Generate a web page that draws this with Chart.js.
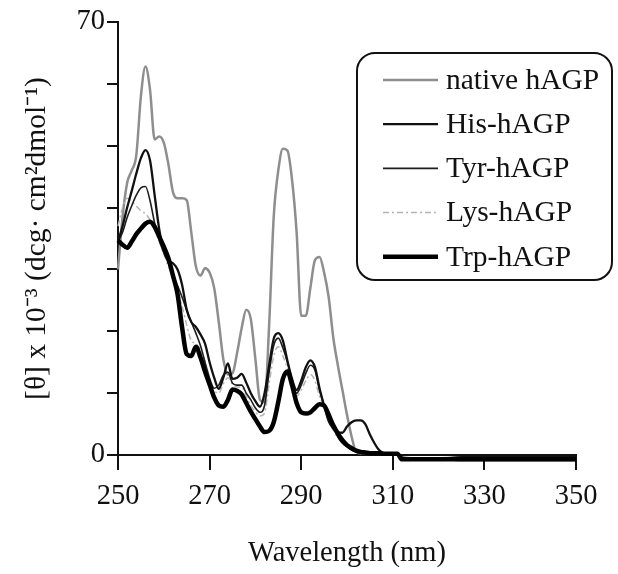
<!DOCTYPE html>
<html>
<head>
<meta charset="utf-8">
<title>CD spectra hAGP</title>
<script src="https://cdn.jsdelivr.net/npm/chart.js@4.4.1/dist/chart.umd.min.js"></script>
<style>
  html, body { margin: 0; padding: 0; background: #fff; }
  #wrap { width: 618px; height: 574px; }
</style>
</head>
<body>
<div id="wrap"><canvas id="cdChart" width="618" height="574"></canvas></div>
<script>
// wavelengths (nm): 1 nm steps to 312, then coarser along the flat tail
const wavelengths = [
  250, 251, 252, 253, 254, 255, 256, 257, 258, 259,
  260, 261, 262, 263, 264, 265, 266, 267, 268, 269,
  270, 271, 272, 273, 274, 275, 276, 277, 278, 279,
  280, 281, 282, 283, 284, 285, 286, 287, 288, 289,
  290, 291, 292, 293, 294, 295, 296, 297, 298, 299,
  300, 301, 302, 303, 304, 305, 306, 307, 308, 309,
  310, 311, 312,
  314, 318, 322, 326, 330, 334, 338, 342, 346, 350
];

// [theta] x 10^-3
const nativeHAGP = [
  30, 38.5, 44, 46, 48.5, 58, 62.8, 59, 51, 51.5,
  50.5, 47, 42.5, 41.5, 41.5, 41.2, 36, 30.5, 29, 30.2,
  29.5, 27, 21.5, 15.5, 13, 13.2, 16.5, 20.5, 23.5, 22,
  15.5, 8.9, 8.5, 21, 38.5, 46, 49.5, 49.2, 44.5, 36,
  22.5, 22.5, 27, 31.5, 32, 29.5, 25.5, 19, 14.5, 10.5,
  6.5, 3, 0.5, 0.3, 0.3, 0.3, 0.3, 0.2, 0.2, 0.2,
  0.2, 0.1, -0.5,
  -0.6, -0.6, -0.5, -0.4, -0.4, -0.5, -0.5, -0.4, -0.4, -0.5
];
const hisHAGP = [
  34.5, 37, 40, 42.7, 45.5, 48, 49.3, 47.6, 42, 36.5,
  33, 31.5, 31, 30, 27.5, 23.5, 21.5, 20.7, 19.5, 18,
  15, 12.5, 10.7, 12.5, 14.8, 12.3, 12.5, 13.1, 11.7, 10,
  8.7, 7.8, 10, 14.5, 18.8, 19.7, 18.5, 15.2, 12.3, 10.5,
  12, 14.2, 15.3, 14.2, 10.8, 8, 5.5, 4.3, 3.7, 3.6,
  4.6, 5.3, 5.6, 5.6, 5, 3.3, 1.9, 0.8, 0.3, 0.2,
  0.2, 0.1, -0.4,
  -0.5, -0.5, -0.5, -0.3, -0.3, -0.3, -0.3, -0.3, -0.3, -0.3
];
const tyrHAGP = [
  34.5, 36, 38.4, 40.3, 42, 43.2, 43.4, 41.1, 37.5, 34.7,
  32.7, 31, 29, 27.4, 25.5, 23.4, 21.5, 19.7, 17.7, 15,
  12.4, 10.8, 11.3, 12.9, 13.4, 11.6, 11.3, 11.3, 10, 8.9,
  7.6, 6.9, 8, 13.4, 17.7, 18.9, 17.3, 15, 12.1, 10,
  11.3, 13.2, 14.5, 13.7, 10.5, 8, 6, 4.4, 2.9, 1.9,
  1.3, 0.8, 0.5, 0.3, 0.2, 0.2, 0.2, 0.2, 0.2, 0.2,
  0.2, 0.1, -0.8,
  -0.7, -0.7, -0.8, -0.9, -0.9, -0.9, -0.9, -0.9, -0.9, -0.9
];
const lysHAGP = [
  37, 40, 41.5, 41, 40.2, 39.5, 39, 38, 36.5, 34.5,
  32.5, 30.5, 28.5, 26.5, 24, 21, 18.5, 18, 17, 15,
  12.5, 10.5, 10, 11.5, 12.5, 11.5, 11, 11, 9.5, 8,
  7, 6.3, 6.8, 11.5, 16, 17.5, 16, 14, 11.5, 9.5,
  10.5, 12, 13, 12, 9.5, 7.5, 5.5, 4, 2.8, 1.9,
  1.3, 0.8, 0.5, 0.3, 0.3, 0.3, 0.2, 0.2, 0.2, 0.2,
  0.2, 0.1, -0.5,
  -0.6, -0.6, -0.6, -0.6, -0.6, -0.6, -0.6, -0.6, -0.6, -0.6
];
const trpHAGP = [
  34.7, 34, 33.5, 34.5, 35.7, 36.6, 37.4, 37.7, 36.9, 35.3,
  33.7, 31.8, 29, 26, 20.6, 16.3, 16, 17.5, 15.8, 13.5,
  11.4, 9.3, 8, 7.8, 8.9, 10.6, 10.4, 9.8, 8.4, 7,
  5.8, 4.6, 3.7, 3.9, 5.3, 8.6, 12.3, 13.5, 11.3, 8.4,
  6.9, 6.7, 6.9, 7.6, 8.2, 8, 6.5, 4.8, 3.5, 2.4,
  1.6, 1.1, 0.7, 0.5, 0.4, 0.3, 0.3, 0.3, 0.2, 0.2,
  0.2, 0.2, -0.7,
  -0.7, -0.7, -0.7, -0.7, -0.7, -0.7, -0.7, -0.7, -0.7, -0.7
];

const seriesLabels = ["native hAGP", "His-hAGP", "Tyr-hAGP", "Lys-hAGP", "Trp-hAGP"];
const xTicks = [250, 270, 290, 310, 330, 350];
const yTickLabels = [0, 70];

const SERIF = "'Liberation Serif', 'Times New Roman', serif";

function toPoints(values) {
  return wavelengths.map((w, i) => ({ x: w, y: values[i] }));
}

function makeDataset(label, values, color, width, dash, order) {
  return {
    label: label,
    data: toPoints(values),
    borderColor: color,
    borderWidth: width,
    borderDash: dash,
    pointRadius: 0,
    fill: false,
    cubicInterpolationMode: "monotone",
    clip: { left: 2, top: 2, right: 2, bottom: 10 },
    order: order
  };
}

// legend drawn by hand: rounded box inside the plot, like the figure
const boxLegend = {
  id: "boxLegend",
  afterDraw(chart) {
    const ctx = chart.ctx;
    const x = 357, y = 53, w = 255, h = 227, r = 18;
    ctx.save();
    ctx.beginPath();
    ctx.moveTo(x + r, y);
    ctx.arcTo(x + w, y, x + w, y + h, r);
    ctx.arcTo(x + w, y + h, x, y + h, r);
    ctx.arcTo(x, y + h, x, y, r);
    ctx.arcTo(x, y, x + w, y, r);
    ctx.closePath();
    ctx.fillStyle = "#fff";
    ctx.fill();
    ctx.lineWidth = 2;
    ctx.strokeStyle = "#111";
    ctx.stroke();

    ctx.font = "29.5px " + SERIF;
    ctx.textBaseline = "middle";
    ctx.textAlign = "left";
    chart.data.datasets.forEach((ds, i) => {
      const cy = 80 + i * 44.2;
      ctx.beginPath();
      ctx.setLineDash(ds.borderDash || []);
      ctx.lineWidth = ds.borderWidth;
      ctx.strokeStyle = ds.borderColor;
      ctx.moveTo(383, cy);
      ctx.lineTo(438, cy);
      ctx.stroke();
      ctx.setLineDash([]);
      ctx.fillStyle = "#111";
      ctx.fillText(ds.label, 446, cy + 1);
    });
    ctx.restore();
  }
};

const ctx = document.getElementById("cdChart").getContext("2d");
new Chart(ctx, {
  type: "line",
  data: {
    datasets: [
      makeDataset(seriesLabels[0], nativeHAGP, "#8e8e8e", 2.5, [], 5),
      makeDataset(seriesLabels[1], hisHAGP, "#111111", 2.3, [], 2),
      makeDataset(seriesLabels[2], tyrHAGP, "#1e1e1e", 1.6, [], 3),
      makeDataset(seriesLabels[3], lysHAGP, "#b4b4b4", 1.5, [6, 3, 2, 3], 4),
      makeDataset(seriesLabels[4], trpHAGP, "#000000", 4.5, [], 1)
    ]
  },
  options: {
    responsive: false,
    animation: false,
    layout: { padding: { top: 22, right: 42, left: 0, bottom: 0 } },
    plugins: {
      legend: { display: false },
      tooltip: { enabled: false }
    },
    scales: {
      x: {
        type: "linear",
        min: 250,
        max: 350,
        afterFit(scale) { scale.height = 119; },
        afterBuildTicks(scale) { scale.ticks = xTicks.map(v => ({ value: v })); },
        grid: { drawOnChartArea: false, color: "#111", lineWidth: 2, tickLength: 15 },
        border: { display: true, color: "#111", width: 2 },
        ticks: {
          color: "#111",
          padding: 9,
          maxRotation: 0,
          font: { family: SERIF, size: 28.5 }
        },
        title: {
          display: true,
          text: "Wavelength (nm)",
          color: "#111",
          font: { family: SERIF, size: 28.5 },
          padding: { top: 0, bottom: 3 }
        }
      },
      y: {
        min: 0,
        max: 70,
        afterFit(scale) { scale.width = 118; },
        grid: { drawOnChartArea: false, color: "#111", lineWidth: 2, tickLength: 11 },
        border: { display: true, color: "#111", width: 2 },
        ticks: {
          stepSize: 10,
          color: "#111",
          padding: 2,
          font: { family: SERIF, size: 28.5 },
          callback: v => (yTickLabels.includes(v) ? v : "")
        },
        title: {
          display: true,
          text: "[θ] x 10⁻³ (dcg· cm²dmol⁻¹)",
          color: "#111",
          font: { family: SERIF, size: 29.5 },
          padding: { top: 20, bottom: 0 }
        }
      }
    }
  },
  plugins: [boxLegend]
});
</script>
</body>
</html>
